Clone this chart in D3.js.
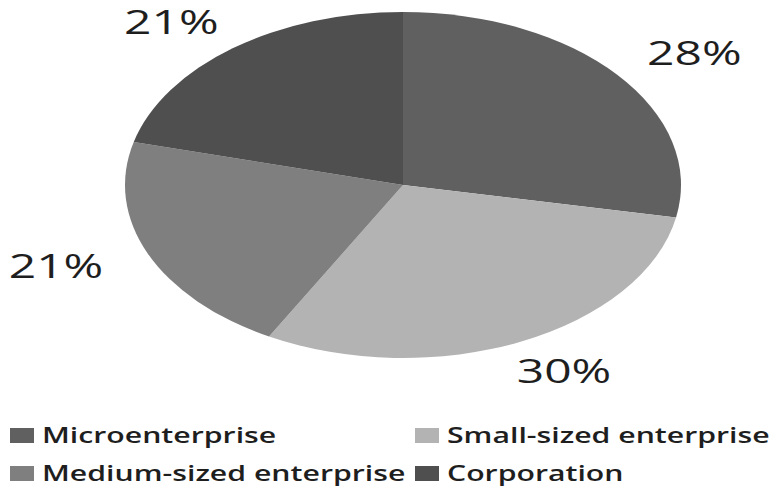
<!DOCTYPE html>
<html>
<head>
<meta charset="utf-8">
<script src="https://cdn.jsdelivr.net/npm/d3@7"></script>
<style>
    body { margin: 0; background: #fff; }
    svg { display: block; }
    text { font-family: "Open Sans", "DejaVu Sans", sans-serif; fill: #1e1e1e; }
</style>
</head>
<body>
<div id="chart"></div>
<script>
// Share of enterprises by size (%)
const categories = ['Microenterprise', 'Small-sized enterprise', 'Medium-sized enterprise', 'Corporation'];
const shares = [28, 30, 21, 21];
const sliceColors = ['#606060', '#b3b3b3', '#7f7f7f', '#4f4f4f'];

const width = 770;
const height = 486;

// the original picture is stretched sideways, so the pie is an ellipse
const cx = 403, cy = 185;
const ry = 173;
const rx = 278;
const labelStretch = 1.5;
const legendStretch = 1.44;

const svg = d3.select('#chart').append('svg')
    .attr('width', width)
    .attr('height', height);

const data = categories.map((c, i) => ({ name: c, value: shares[i], color: sliceColors[i] }));

const pie = d3.pie()
    .sort(null)
    .value(d => d.value);

const arcs = pie(data);

const arc = d3.arc()
    .innerRadius(0)
    .outerRadius(ry);

// Slices
svg.append('g')
    .attr('transform', `translate(${cx},${cy}) scale(${rx / ry},1)`)
    .selectAll('path')
    .data(arcs)
    .enter()
    .append('path')
    .attr('d', arc)
    .attr('fill', d => d.data.color);

// Percent labels, placed outside the edge
const labelRx = rx * 1.36;
const labelRy = ry * 1.19;

svg.append('g')
    .selectAll('text')
    .data(arcs)
    .enter()
    .append('text')
    .attr('transform', d => {
        const mid = (d.startAngle + d.endAngle) / 2;
        const x = cx + Math.sin(mid) * labelRx;
        const y = cy - Math.cos(mid) * labelRy;
        return `translate(${x},${y}) scale(${labelStretch},1)`;
    })
    .attr('text-anchor', 'middle')
    .attr('dy', '0.36em')
    .style('font-size', '32px')
    .style('font-weight', 500)
    .text(d => `${d.value}%`);

// Legend, two columns
const legendCols = [10, 415];
const legendRows = [443, 481];

const legend = svg.append('g')
    .selectAll('.legend-item')
    .data(data)
    .enter()
    .append('g')
    .attr('class', 'legend-item')
    .attr('transform', (d, i) => `translate(${legendCols[i % 2]},${legendRows[Math.floor(i / 2)]})`);

legend.append('rect')
    .attr('x', 0)
    .attr('y', -15)
    .attr('width', 24)
    .attr('height', 15)
    .attr('fill', d => d.color);

legend.append('text')
    .attr('transform', `translate(32,0) scale(${legendStretch},1)`)
    .style('font-size', '21px')
    .style('font-weight', 600)
    .text(d => d.name);
</script>
</body>
</html>
